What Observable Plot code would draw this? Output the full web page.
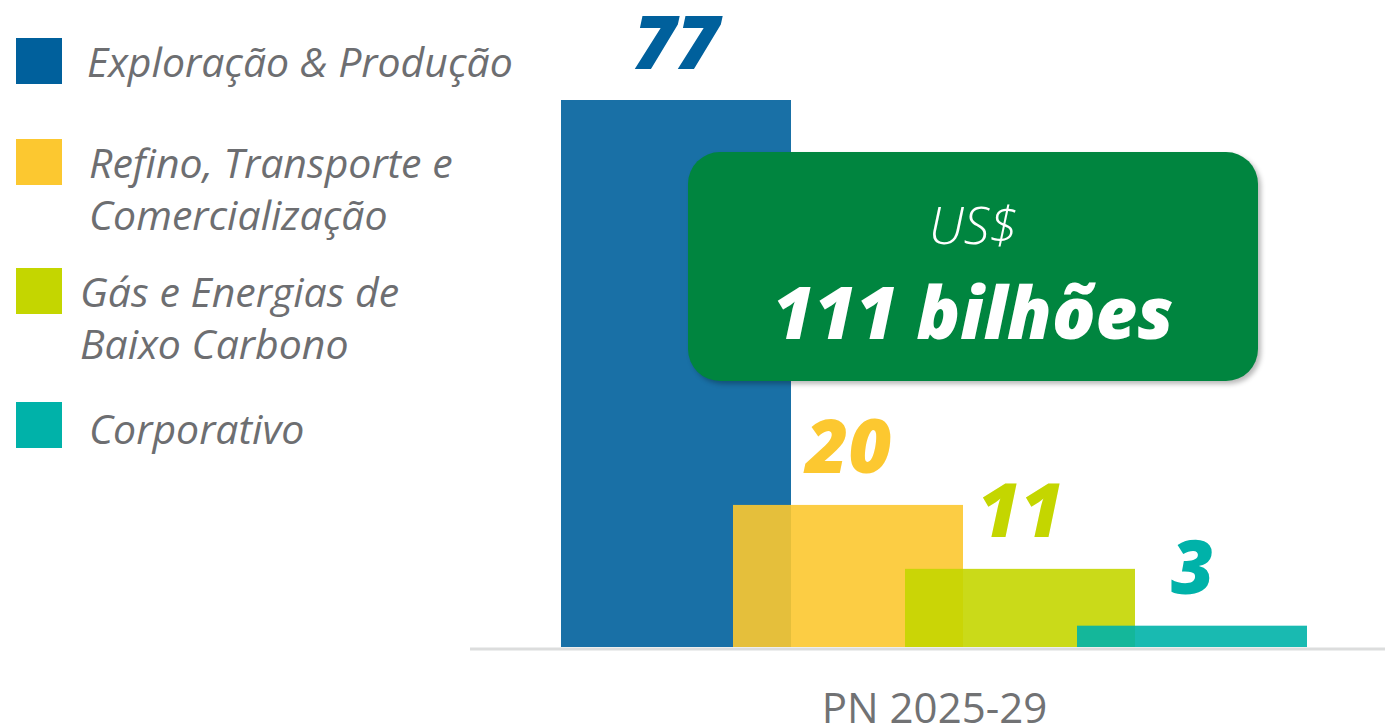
<!DOCTYPE html>
<html><head><meta charset="utf-8">
<script src="https://cdn.jsdelivr.net/npm/d3@7"></script>
<script src="https://cdn.jsdelivr.net/npm/@observablehq/plot@0.6"></script>
<style>
html,body{margin:0;padding:0;background:#fff;overflow:hidden}
#wrap{position:relative;width:1385px;height:725px;font-family:"Open Sans",sans-serif}
.sw{position:absolute;left:16px;width:46px;height:46px}
.lt{position:absolute;font-size:41px;line-height:52px;font-style:italic;color:#6d6e71;white-space:nowrap}
#chart{position:absolute;left:470px;top:0}
#chart svg{overflow:visible}
#box{position:absolute;left:688px;top:152px;width:570px;height:229px;border-radius:32px;background:#00853f;box-shadow:3px 3px 5px rgba(0,0,0,0.28)}
#box .t1{position:absolute;left:0;width:100%;text-align:center;top:47px;font-size:51px;line-height:51px;font-style:italic;font-weight:300;color:#fff}
#box .t2{position:absolute;left:0;width:100%;text-align:center;top:123px;font-size:72px;line-height:72px;font-style:italic;font-weight:800;color:#fff}
</style></head><body><div id="wrap"></div>
<script>
// ---- data ----
const categories = ["Exploração & Produção", "Refino, Transporte e Comercialização", "Gás e Energias de Baixo Carbono", "Corporativo"];
const legendLines = [["Exploração & Produção"], ["Refino, Transporte e", "Comercialização"], ["Gás e Energias de", "Baixo Carbono"], ["Corporativo"]];
const values = [77, 20, 11, 3];
const colors = ["#00609c", "#fcc830", "#c4d600", "#00b2a9"];
const periodLabel = "PN 2025-29";
const totalPrefix = "US$";
const totalLabel = "111 bilhões";

// ---- layout ----
const W = 915, H = 725;
const barStep = 172, barWidth = 230, leftPad = 91;
const bw = barWidth / barStep;
const legendSwatchTop = [38, 139, 268, 402];
const legendTextTop = [35, 136, 265, 402];
const legendTextLeft = [87, 89, 80, 89];

const wrap = document.getElementById("wrap");

// legend
categories.forEach((c, i) => {
  const sw = document.createElement("div");
  sw.className = "sw";
  sw.style.top = legendSwatchTop[i] + "px";
  sw.style.background = colors[i];
  wrap.appendChild(sw);
  const t = document.createElement("div");
  t.className = "lt";
  t.style.top = legendTextTop[i] + "px";
  t.style.left = legendTextLeft[i] + "px";
  t.innerHTML = legendLines[i].join("<br>");
  wrap.appendChild(t);
});

const rows = categories.map((cat, i) => ({cat, i, value: values[i]}));

const chart = Plot.plot({
  width: W, height: H,
  marginLeft: 0, marginRight: 0, marginTop: 100, marginBottom: H - 647,
  x: {domain: [-leftPad / barStep, (W - leftPad) / barStep], axis: null},
  y: {domain: [0, d3.max(values)], axis: null, nice: false},
  color: {domain: categories, range: colors},
  style: {fontFamily: "'Open Sans', sans-serif", background: "transparent"},
  marks: [
    Plot.ruleY([0], {stroke: "#dcdddd", strokeWidth: 3, dy: 1.5}),
    Plot.rect(rows, {x1: "i", x2: d => d.i + bw, y1: 0, y2: "value", fill: "cat", fillOpacity: 0.9}),
    Plot.text(rows, {x: d => d.i + bw / 2, y: "value", text: d => String(d.value), fill: "cat",
      dy: -32, lineAnchor: "bottom", fontSize: 74, fontWeight: 800, fontStyle: "italic"}),
    Plot.text([periodLabel], {x: () => (categories.length - 1 + bw) / 2, y: () => 0, text: d => d,
      dy: 75, lineAnchor: "bottom", fontSize: 42, fill: "#717274"})
  ]
});
const holder = document.createElement("div");
holder.id = "chart";
holder.appendChild(chart);
wrap.appendChild(holder);

// total box
const box = document.createElement("div");
box.id = "box";
box.innerHTML = `<div class="t1">${totalPrefix}</div><div class="t2">${totalLabel}</div>`;
wrap.appendChild(box);
</script></body></html>
